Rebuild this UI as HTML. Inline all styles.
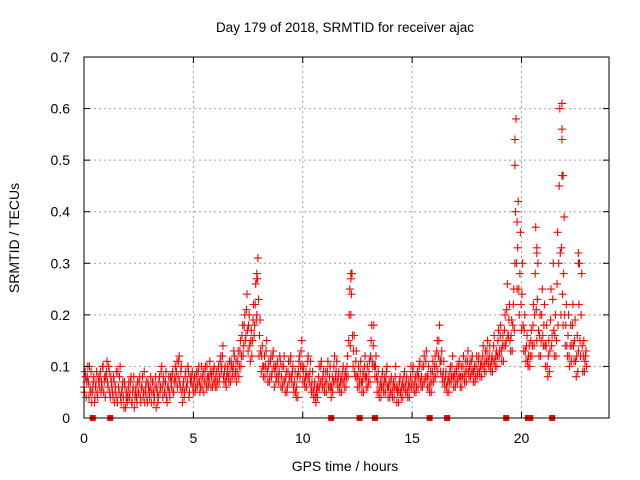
<!DOCTYPE html>
<html><head><meta charset="utf-8"><style>
body{margin:0;background:#fff}
svg{display:block;font-family:"Liberation Sans",sans-serif}
</style></head><body>
<svg id="chart" width="640" height="480" viewBox="0 0 640 480" xmlns="http://www.w3.org/2000/svg">
<rect width="640" height="480" fill="#fff"/>
<text x="345" y="32" font-size="13.5" text-anchor="middle" fill="#000">Day 179 of 2018, SRMTID for receiver ajac</text>
<text x="345" y="471" font-size="14" text-anchor="middle" fill="#000">GPS time / hours</text>
<text transform="translate(19,238) rotate(-90)" font-size="14" text-anchor="middle" fill="#000">SRMTID / TECUs</text>
<g id="grid"></g>
<g id="marks"></g>
<g id="axes"></g>
</svg>
<script>
const xTicks=[0,5,10,15,20];
const yTicks=[0,0.1,0.2,0.3,0.4,0.5,0.6,0.7];
const yTickLabels=["0","0.1","0.2","0.3","0.4","0.5","0.6","0.7"];
const stepHours=0.1;
const seriesValues=[
.06,.09,.04,.08,.07,.10,.05,.03,.06,.08,.04,.07,.05,.08,.06,.09,.07,.10,.05,.08,
.08,.11,.06,.09,.04,.07,.05,.08,.03,.06,.04,.09,.05,.10,.03,.06,.04,.07,.02,.05,
.04,.07,.05,.08,.03,.06,.02,.05,.04,.07,.05,.08,.03,.06,.04,.09,.05,.07,.03,.06,
.04,.08,.05,.07,.03,.06,.02,.05,.04,.08,.06,.10,.04,.07,.05,.09,.03,.06,.05,.08,
.06,.09,.05,.08,.07,.11,.08,.12,.06,.10,.03,.07,.05,.09,.06,.10,.04,.08,.07,.09,
.05,.08,.06,.09,.07,.10,.05,.08,.06,.09,.07,.10,.06,.08,.08,.11,.06,.09,.07,.10,
.06,.09,.07,.10,.08,.12,.10,.14,.07,.10,.06,.09,.08,.11,.07,.10,.09,.13,.08,.11,
.09,.13,.10,.15,.12,.18,.14,.20,.16,.24,.13,.20,.11,.17,.15,.22,.18,.26,.20,.31,
.12,.19,.09,.14,.08,.12,.10,.15,.07,.11,.08,.12,.09,.13,.06,.10,.08,.11,.07,.12,
.06,.10,.07,.12,.05,.09,.06,.11,.08,.12,.07,.10,.05,.09,.04,.08,.09,.12,.10,.15,
.07,.10,.06,.09,.08,.12,.07,.11,.05,.09,.04,.07,.03,.06,.06,.10,.07,.11,.06,.09,
.05,.09,.07,.11,.06,.10,.04,.08,.07,.12,.08,.11,.06,.09,.05,.08,.07,.10,.06,.09,
.08,.12,.15,.25,.20,.28,.10,.16,.08,.13,.06,.10,.07,.11,.05,.09,.08,.12,.06,.10,
.07,.11,.12,.18,.10,.18,.08,.12,.05,.09,.04,.07,.06,.09,.05,.08,.07,.10,.04,.07,
.05,.08,.04,.07,.06,.10,.03,.06,.05,.08,.04,.07,.06,.09,.05,.08,.04,.07,.06,.10,
.07,.10,.05,.08,.06,.09,.08,.11,.06,.10,.07,.12,.08,.13,.06,.10,.05,.09,.07,.11,
.08,.12,.10,.15,.12,.18,.09,.13,.07,.11,.06,.09,.05,.08,.07,.10,.08,.12,.06,.09,
.07,.10,.08,.11,.06,.10,.08,.12,.07,.11,.09,.13,.08,.11,.09,.12,.07,.10,.08,.12,
.09,.12,.08,.11,.10,.14,.09,.13,.11,.15,.10,.14,.09,.12,.11,.16,.10,.13,.12,.17,
.13,.18,.11,.16,.14,.20,.15,.26,.16,.22,.13,.19,.18,.25,.30,.58,.25,.42,.20,.36,
.17,.30,.13,.20,.11,.16,.10,.14,.12,.17,.14,.22,.20,.37,.15,.30,.12,.20,.15,.25,
.14,.22,.10,.18,.08,.15,.13,.25,.16,.30,.12,.20,.15,.36,.30,.60,.20,.47,.18,.39,
.14,.22,.12,.20,.10,.18,.14,.22,.11,.19,.08,.16,.13,.30,.12,.28,.09,.15,.11,.13
];
const seriesValuesB=[
.05,.08,.07,.10,.04,.06,.09,.05,.07,.03,.06,.09,.04,.07,.08,.05,.06,.10,.07,.04,
.09,.07,.10,.05,.08,.06,.04,.07,.05,.09,.03,.06,.08,.04,.05,.07,.02,.06,.04,.03,
.06,.04,.07,.03,.05,.08,.04,.06,.03,.05,.07,.04,.06,.08,.05,.03,.06,.04,.07,.05,
.06,.03,.07,.05,.04,.08,.06,.03,.07,.05,.09,.06,.08,.05,.07,.04,.06,.08,.04,.07,
.08,.05,.07,.10,.09,.06,.11,.07,.09,.05,.06,.04,.08,.06,.07,.09,.05,.07,.08,.06,
.07,.05,.08,.06,.09,.07,.06,.10,.08,.05,.09,.07,.10,.06,.07,.09,.08,.06,.09,.07,
.08,.06,.09,.07,.11,.09,.12,.08,.09,.07,.08,.10,.07,.09,.11,.08,.10,.12,.09,.07,
.11,.08,.13,.10,.16,.12,.18,.15,.21,.17,.18,.14,.15,.12,.19,.16,.22,.19,.27,.23,
.16,.13,.12,.10,.10,.08,.13,.09,.10,.07,.11,.08,.12,.10,.09,.07,.10,.08,.09,.11,
.08,.06,.10,.07,.08,.05,.09,.07,.11,.08,.09,.06,.07,.05,.06,.04,.11,.08,.13,.10,
.09,.07,.08,.06,.11,.08,.09,.06,.07,.05,.06,.04,.05,.04,.08,.06,.10,.07,.08,.06,
.07,.05,.09,.06,.08,.06,.06,.05,.10,.07,.09,.07,.08,.06,.07,.05,.09,.07,.08,.06,
.10,.08,.20,.14,.24,.16,.13,.09,.11,.08,.08,.06,.09,.07,.07,.05,.10,.08,.08,.06,
.09,.07,.15,.11,.14,.10,.10,.08,.07,.05,.06,.04,.08,.06,.07,.05,.09,.06,.06,.04,
.07,.05,.06,.04,.08,.06,.05,.03,.07,.05,.06,.04,.08,.06,.07,.05,.06,.04,.08,.06,
.09,.06,.07,.05,.08,.06,.10,.07,.08,.06,.10,.07,.11,.08,.08,.06,.07,.05,.09,.07,
.10,.08,.13,.09,.15,.11,.11,.08,.09,.07,.08,.06,.07,.05,.09,.07,.10,.08,.08,.06,
.09,.07,.10,.08,.08,.06,.10,.08,.09,.07,.11,.09,.10,.08,.11,.09,.09,.07,.10,.08,
.11,.09,.10,.08,.12,.10,.11,.09,.13,.11,.12,.10,.11,.09,.14,.11,.12,.10,.15,.12,
.16,.13,.14,.11,.17,.14,.21,.16,.19,.15,.16,.13,.22,.17,.40,.30,.33,.25,.28,.22,
.24,.18,.17,.13,.14,.11,.12,.10,.15,.12,.18,.14,.28,.21,.23,.17,.16,.12,.20,.16,
.18,.14,.14,.10,.12,.09,.19,.14,.23,.17,.16,.12,.26,.18,.45,.32,.33,.24,.28,.20,
.18,.14,.16,.12,.14,.11,.18,.14,.15,.11,.12,.09,.22,.15,.20,.14,.12,.09,.12,.10
];
const extraTimes=[19.7,19.7,21.85,21.85,21.85,7.9,7.9,12.2,12.2,20.7,20.7,22.6,22.6,19.8,21.9];
const extraValues=[0.54,0.49,0.61,0.56,0.54,0.27,0.28,0.28,0.27,0.33,0.32,0.32,0.30,0.38,0.47];
const zeroTimes=[0.4,1.2,11.3,12.6,13.3,15.8,16.6,19.3,20.3,20.4,21.4];

const X0=84,X1=609,Y0=418,Y1=57,XMAX=24,YMAX=0.7;
const sx=v=>X0+(v/XMAX)*(X1-X0);
const sy=v=>Y0-(v/YMAX)*(Y0-Y1);
const NS="http://www.w3.org/2000/svg";
function mk(tag,attrs,parent){const e=document.createElementNS(NS,tag);for(const k in attrs)e.setAttribute(k,attrs[k]);parent.appendChild(e);return e;}
const grid=document.getElementById('grid'),axes=document.getElementById('axes'),marks=document.getElementById('marks');
xTicks.forEach(t=>{const x=sx(t);
 if(t>0){const g=mk('line',{x1:x,y1:Y0,x2:x,y2:Y1,stroke:'#a0a0a0','stroke-dasharray':'2,3'},grid);
 
 }
 mk('line',{x1:x,y1:Y0,x2:x,y2:Y0-6,stroke:'#000'},axes);
 mk('line',{x1:x,y1:Y1,x2:x,y2:Y1+6,stroke:'#000'},axes);
 const tx=mk('text',{x:x,y:Y0+25,'font-size':14,'text-anchor':'middle'},axes);tx.textContent=String(t);
 
 
});
yTicks.forEach((t,i)=>{const y=sy(t);
 if(t>0&&t<YMAX){const g=mk('line',{x1:X0,y1:y,x2:X1,y2:y,stroke:'#a0a0a0','stroke-dasharray':'2,3'},grid);
 
 }
 mk('line',{x1:X0,y1:y,x2:X0+6,y2:y,stroke:'#000'},axes);
 mk('line',{x1:X1,y1:y,x2:X1-6,y2:y,stroke:'#000'},axes);
 const tx=mk('text',{x:X0-14,y:y+5,'font-size':14,'text-anchor':'end'},axes);tx.textContent=yTickLabels[i];
 
 
});
mk('rect',{x:X0,y:Y1,width:X1-X0,height:Y0-Y1,fill:'none',stroke:'#000'},axes);
let d='';
function cross(t,v){const x=sx(t),y=sy(v);d+=`M${(x-4).toFixed(1)},${y.toFixed(1)}h8M${x.toFixed(1)},${(y-4).toFixed(1)}v8`;}
seriesValues.forEach((v,i)=>{const t=Math.floor(i/2)*stepHours+(i%2)*stepHours/2;cross(t,v);});
seriesValuesB.forEach((v,i)=>{const t=Math.floor(i/2)*stepHours+(i%2)*stepHours/2+stepHours/4;cross(t,v);});
extraTimes.forEach((t,i)=>cross(t,extraValues[i]));
const p=mk('path',{d:d,stroke:'#ff0000','stroke-width':1.1,fill:'none'},marks);


zeroTimes.forEach(t=>{const r=mk('rect',{x:sx(t)-3,y:Y0-3,width:6,height:6,fill:'#ff0000'},marks);
 
 
});
</script>
</body></html>
